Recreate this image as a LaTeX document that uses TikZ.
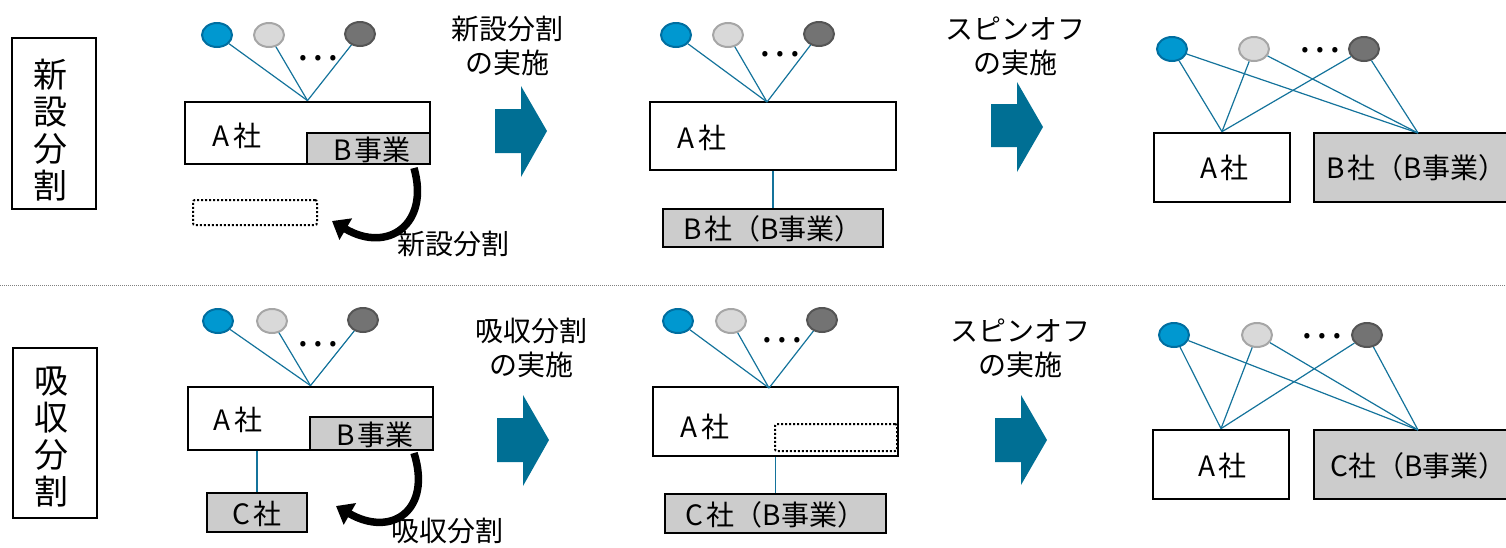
\documentclass[tikz,border=0pt]{standalone}
\usepackage{fontspec}
\setmainfont{Noto Sans CJK JP}
\usetikzlibrary{arrows.meta,calc,shapes.geometric}
\definecolor{blueF}{RGB}{0,152,208}
\definecolor{blueB}{RGB}{0,110,160}
\definecolor{lightF}{RGB}{217,217,217}
\definecolor{lightB}{RGB}{166,166,166}
\definecolor{darkF}{RGB}{115,115,115}
\definecolor{darkB}{RGB}{85,85,85}
\definecolor{boxgray}{RGB}{204,204,204}
\definecolor{arrowc}{RGB}{0,111,148}
\definecolor{linec}{RGB}{20,115,155}
\begin{document}
\begin{tikzpicture}[x=1pt,y=-1pt,
  box/.style={draw=black, line width=2.8pt, fill=white, inner sep=0pt},
  gbox/.style={box, fill=boxgray},
  lbl/.style={font=\fontsize{28}{34}\selectfont, align=center, inner sep=0pt},
  txt/.style={font=\fontsize{28}{30}\selectfont, inner sep=0pt},
  dots/.style={font=\fontsize{40}{40}\selectfont, inner sep=0pt},
  shb/.style={ellipse, draw=blueB, fill=blueF, line width=2pt, minimum width=30pt, minimum height=24pt, inner sep=0pt},
  shl/.style={shb, draw=lightB, fill=lightF},
  shd/.style={shb, draw=darkB, fill=darkF},
  conn/.style={draw=linec, line width=1.2pt},
  vlab/.style={draw=black, line width=1.5pt, fill=white, inner sep=0pt},
  vtxt/.style={font=\fontsize{34}{37}\selectfont, align=center, inner sep=0pt},
  dotbox/.style={draw=black, line width=2pt, dash pattern=on 2pt off 2pt, rounded corners=2pt, inner sep=0pt},
  curvarr/.style={line width=7.5pt, -{Triangle[length=16pt,width=24pt]}},
  bigarr/.style={fill=arrowc}
]
\useasboundingbox (0,0) rectangle (1506,547);
\clip (0,0) rectangle (1506,547);

% separator
\draw[gray, line width=1pt, dash pattern=on 1pt off 1pt] (0,285) -- (1506,285);

%================ Row 1 =================
\node[vlab, minimum width=84pt, minimum height=171pt] (L1) at (54,123.5) {};
\node[vtxt] (L1t) at (50,130) {新\\設\\分\\割};

% panel 1
\node[box, minimum width=245pt, minimum height=62pt] (A1) at (307.5,133) {};
\node[gbox, minimum width=123pt, minimum height=31pt] (B1) at (368.5,148.5) {};
\node[txt] (A1t) at (237,136) {A\hspace{3pt}社};
\node[txt] (B1t) at (372,150) {B\hspace{3pt}事業};
\node[shb] (c1a) at (217,35) {};
\node[shl] (c1b) at (269,35) {};
\node[shd] (c1c) at (360,34) {};
\node[dots] (d1) at (318,58) {…};
\draw[conn] (c1a) -- (A1.north);
\draw[conn] (c1b) -- (A1.north);
\draw[conn] (c1c) -- (A1.north);
\node[dotbox, minimum width=124pt, minimum height=25pt] (N1) at (255,212.5) {};
\coordinate (s1) at (414,168);
\coordinate (e1) at (332,221);
\draw[curvarr] (s1) .. controls (430,224) and (388,254) .. (e1);
\node[txt] (k1) at (453,244) {新設分割};

\node[lbl] (T1) at (507,46) {新設分割\\の実施};
\fill[bigarr] (495,109) -- (521,109) -- (521,86) -- (547,131) -- (521,177) -- (521,153) -- (495,153) -- cycle;

% panel 2
\node[box, minimum width=246pt, minimum height=68pt] (A2) at (773,136) {};
\node[txt] (A2t) at (702,138) {A\hspace{3pt}社};
\node[gbox, minimum width=220pt, minimum height=38pt] (B2) at (773,228) {};
\node[txt] (B2t) at (773,229) {B\hspace{3pt}社（B事業）};
\draw[conn] (A2.south) -- (B2.north);
\node[shb] (c2a) at (676,35) {};
\node[shl] (c2b) at (728,35) {};
\node[shd] (c2c) at (819,34) {};
\node[dots] (d2) at (780,54) {…};
\coordinate (j2) at (767,102);
\draw[conn] (c2a) -- (j2);
\draw[conn] (c2b) -- (j2);
\draw[conn] (c2c) -- (j2);

\node[lbl] (T2) at (1015,46) {スピンオフ\\の実施};
\fill[bigarr] (991,104) -- (1017,104) -- (1017,82) -- (1043,127) -- (1017,172) -- (1017,147) -- (991,147) -- cycle;

% panel 3
\node[box, minimum width=136pt, minimum height=69pt] (A3) at (1222,167.5) {};
\node[txt] (A3t) at (1224,168) {A\hspace{3pt}社};
\node[gbox, minimum width=226pt, minimum height=69pt] (B3) at (1427,167.5) {};
\node[txt, anchor=west] (B3t) at (1326,168) {B\hspace{3pt}社（B事業）};
\node[shb] (c3a) at (1172,49) {};
\node[shl] (c3b) at (1254,49) {};
\node[shd] (c3c) at (1364,49) {};
\node[dots] (d3) at (1320,50) {…};
\coordinate (j3) at (1418,133);
\draw[conn] (c3a) -- (A3.north);
\draw[conn] (c3b) -- (A3.north);
\draw[conn] (c3c) -- (A3.north);
\draw[conn] (c3a) -- (j3);
\draw[conn] (c3b) -- (j3);
\draw[conn] (c3c) -- (j3);

%================ Row 2 =================
\node[vlab, minimum width=84pt, minimum height=170pt] (L2) at (55,433) {};
\node[vtxt] (L2t) at (51,437) {吸\\収\\分\\割};

% panel 1
\node[box, minimum width=245pt, minimum height=63pt] (A4) at (310.5,418.5) {};
\node[gbox, minimum width=123pt, minimum height=33pt] (B4) at (371.5,433.5) {};
\node[txt] (A4t) at (238,420) {A\hspace{3pt}社};
\node[txt] (B4t) at (375,435) {B\hspace{3pt}事業};
\node[shb] (c4a) at (218,321) {};
\node[shl] (c4b) at (272,321) {};
\node[shd] (c4c) at (363,320) {};
\node[dots] (d4) at (318,344) {…};
\draw[conn] (c4a) -- (A4.north);
\draw[conn] (c4b) -- (A4.north);
\draw[conn] (c4c) -- (A4.north);
\node[gbox, minimum width=100pt, minimum height=39pt] (C4) at (257,512.5) {};
\node[txt] (C4t) at (257,514) {C\hspace{3pt}社};
\draw[conn] (C4.north) -- (C4.north |- A4.south);
\coordinate (s4) at (414,453);
\coordinate (e4) at (336,506);
\draw[curvarr] (s4) .. controls (432,510) and (392,538) .. (e4);
\node[txt] (k4) at (447,531) {吸収分割};

\node[lbl] (T4) at (531,348) {吸収分割\\の実施};
\fill[bigarr] (497,418) -- (523,418) -- (523,395) -- (549,440) -- (523,486) -- (523,462) -- (497,462) -- cycle;

% panel 2
\node[box, minimum width=245pt, minimum height=69pt] (A5) at (775.5,421.5) {};
\node[txt] (A5t) at (705,427) {A\hspace{3pt}社};
\node[dotbox, minimum width=122pt, minimum height=27pt] (N5) at (836,437.5) {};
\node[gbox, minimum width=221pt, minimum height=39pt] (C5) at (775.5,513.5) {};
\node[txt] (C5t) at (775.5,515) {C\hspace{3pt}社（B事業）};
\draw[conn] (C5.north) -- (C5.north |- A5.south);
\node[shb] (c5a) at (678,321) {};
\node[shl] (c5b) at (731,321) {};
\node[shd] (c5c) at (822,320) {};
\node[dots] (d5) at (782,340) {…};
\coordinate (j5) at (769,388);
\draw[conn] (c5a) -- (j5);
\draw[conn] (c5b) -- (j5);
\draw[conn] (c5c) -- (j5);

\node[lbl] (T5) at (1020,348) {スピンオフ\\の実施};
\fill[bigarr] (995,418) -- (1021,418) -- (1021,395) -- (1047,440) -- (1021,485) -- (1021,462) -- (995,462) -- cycle;

% panel 3
\node[box, minimum width=136pt, minimum height=69pt] (A6) at (1221,464.5) {};
\node[txt] (A6t) at (1222,466) {A\hspace{3pt}社};
\node[gbox, minimum width=226pt, minimum height=69pt] (C6) at (1427,464.5) {};
\node[txt, anchor=west] (C6t) at (1330,466) {C社（B事業）};
\node[shb] (c6a) at (1174,335) {};
\node[shl] (c6b) at (1257,335) {};
\node[shd] (c6c) at (1367,335) {};
\node[dots] (d6) at (1322,336) {…};
\coordinate (j6) at (1418,430);
\draw[conn] (c6a) -- (A6.north);
\draw[conn] (c6b) -- (A6.north);
\draw[conn] (c6c) -- (A6.north);
\draw[conn] (c6a) -- (j6);
\draw[conn] (c6b) -- (j6);
\draw[conn] (c6c) -- (j6);
\end{tikzpicture}
\end{document}
